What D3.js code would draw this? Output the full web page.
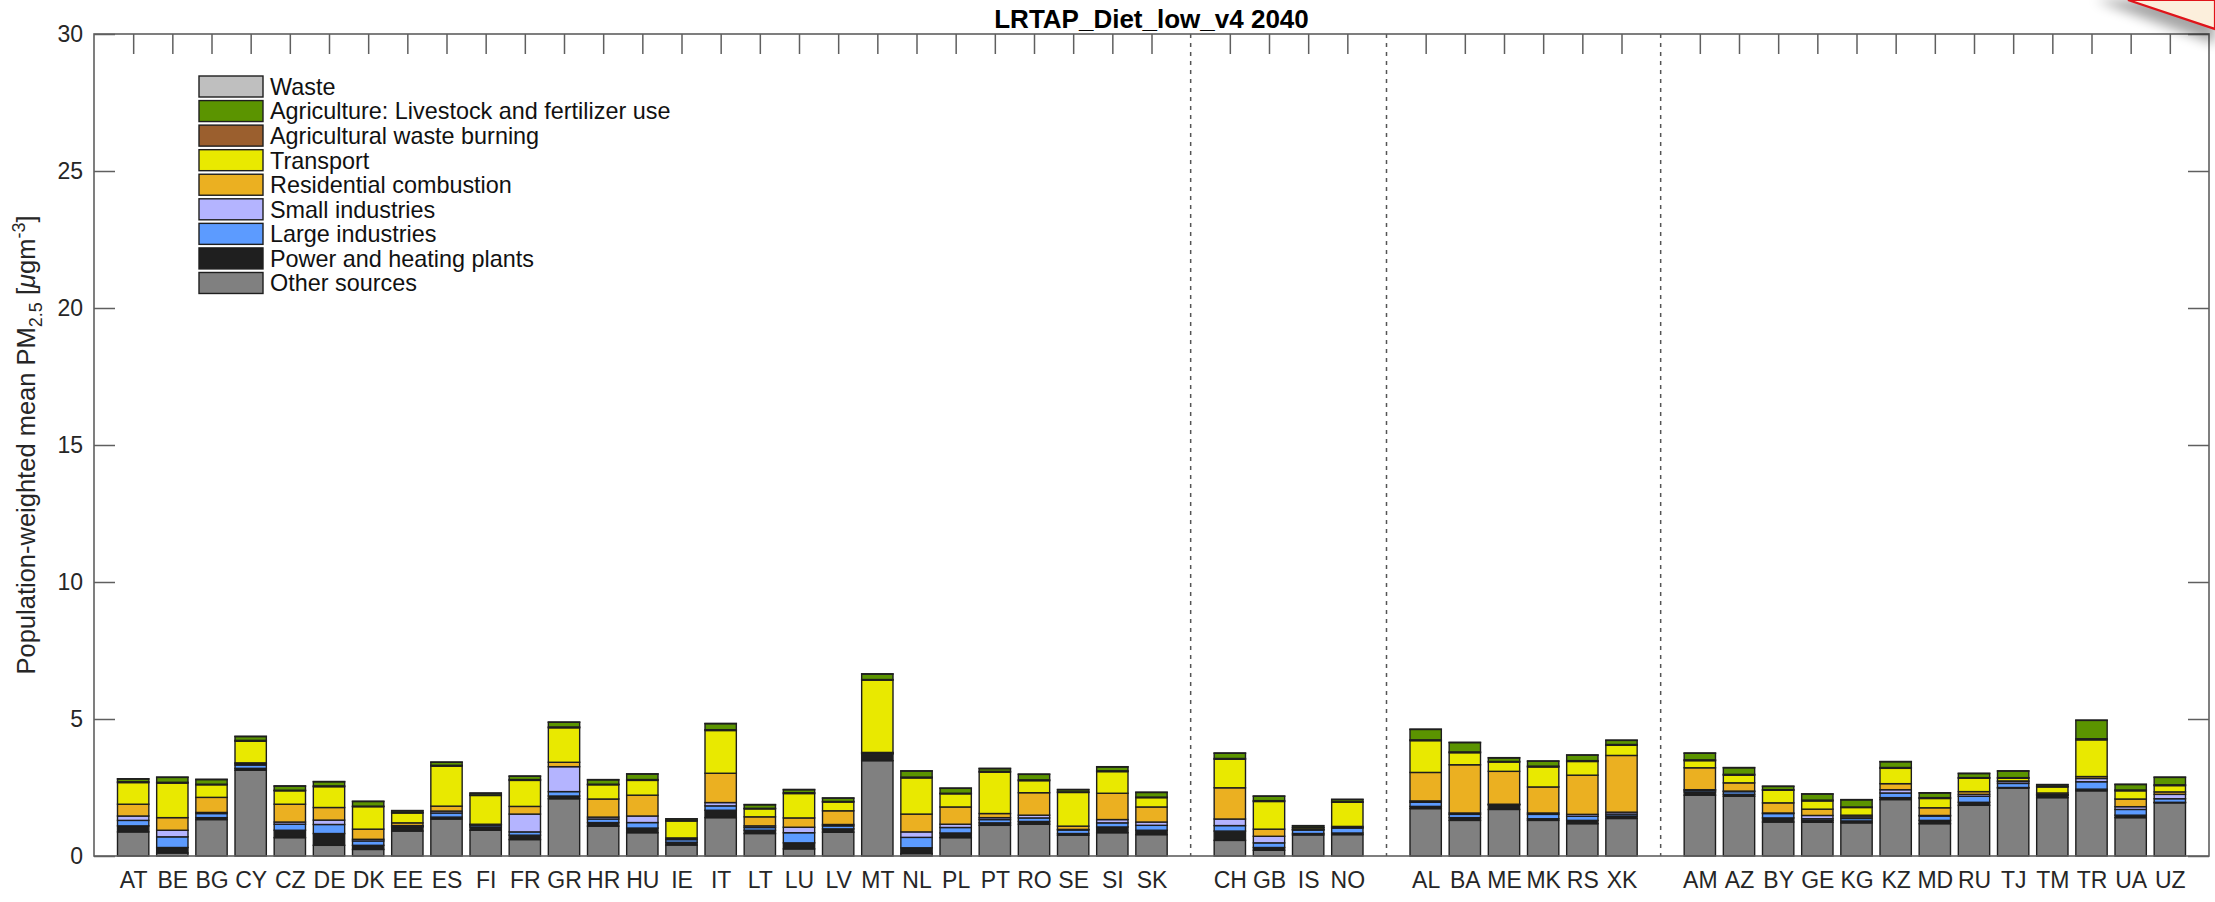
<!DOCTYPE html>
<html>
<head>
<meta charset="utf-8">
<script src="https://cdn.jsdelivr.net/npm/d3@7"></script>
<style>
  body { margin: 0; background: #fff; }
  svg { display: block; }
  text { font-family: "Liberation Sans", Arial, Helvetica, sans-serif; }
</style>
</head>
<body>
<svg id="chart" width="2215" height="902"></svg>
<script>
// Country groups (a blank slot separates each group on the x axis)
const euCountries = ["AT","BE","BG","CY","CZ","DE","DK","EE","ES","FI","FR","GR","HR","HU","IE","IT","LT","LU","LV","MT","NL","PL","PT","RO","SE","SI","SK"];
const eftaCountries = ["CH","GB","IS","NO"];
const balkanCountries = ["AL","BA","ME","MK","RS","XK"];
const eastCountries = ["AM","AZ","BY","GE","KG","KZ","MD","RU","TJ","TM","TR","UA","UZ"];
const countryGroups = [euCountries, eftaCountries, balkanCountries, eastCountries];

// Source contributions, µg/m3, one value per country in the order above
const otherSources = [0.88,0.11,1.33,3.13,0.67,0.39,0.24,0.91,1.35,0.94,0.60,2.09,1.09,0.85,0.40,1.40,0.82,0.26,0.87,3.48,0.09,0.67,1.12,1.16,0.76,0.85,0.78,
  0.57,0.21,0.77,0.78, 1.73,1.30,1.70,1.30,1.18,1.37, 2.22,2.18,1.24,1.23,1.21,2.06,1.18,1.85,2.48,2.13,2.38,1.40,1.94];
const powerPlants = [0.22,0.20,0.07,0.07,0.27,0.43,0.15,0.15,0.07,0.12,0.16,0.10,0.13,0.17,0.10,0.27,0.12,0.22,0.12,0.24,0.21,0.17,0.09,0.10,0.06,0.21,0.16,
  0.34,0.10,0.05,0.06, 0.08,0.10,0.16,0.06,0.12,0.09, 0.12,0.07,0.15,0.07,0.07,0.07,0.12,0.11,0.02,0.09,0.06,0.09,0.02];
const largeIndustries = [0.20,0.39,0.15,0.12,0.22,0.33,0.16,0.03,0.15,0.07,0.12,0.16,0.13,0.20,0.10,0.16,0.10,0.37,0.11,0.03,0.38,0.20,0.12,0.13,0.13,0.15,0.18,
  0.20,0.17,0.13,0.18, 0.15,0.12,0.02,0.16,0.15,0.07, 0.06,0.10,0.16,0.06,0.09,0.17,0.16,0.22,0.15,0.01,0.27,0.21,0.13];
const smallIndustries = [0.16,0.24,0.04,0.05,0.08,0.16,0.06,0.02,0.07,0.01,0.65,0.91,0.07,0.24,0.01,0.12,0.06,0.20,0.05,0.01,0.20,0.12,0.07,0.10,0.02,0.12,0.12,
  0.24,0.24,0.01,0.02, 0.05,0.05,0.01,0.05,0.07,0.07, 0.02,0.02,0.02,0.12,0.06,0.12,0.02,0.07,0.07,0.01,0.12,0.10,0.16];
const residential = [0.43,0.46,0.55,0.03,0.65,0.46,0.37,0.10,0.18,0.02,0.28,0.16,0.66,0.76,0.05,1.07,0.33,0.34,0.50,0.02,0.65,0.63,0.15,0.82,0.12,0.96,0.55,
  1.14,0.26,0.01,0.04, 1.04,1.76,1.20,0.95,1.43,2.07, 0.80,0.30,0.37,0.23,0.06,0.22,0.28,0.10,0.02,0.06,0.07,0.28,0.09];
const transport = [0.79,1.26,0.46,0.79,0.49,0.76,0.82,0.36,1.46,1.05,0.95,1.26,0.52,0.54,0.62,1.56,0.29,0.89,0.32,2.64,1.32,0.48,1.51,0.44,1.23,0.79,0.34,
  1.04,1.01,0.06,0.88, 1.16,0.44,0.34,0.73,0.50,0.37, 0.26,0.28,0.46,0.30,0.28,0.56,0.34,0.49,0.10,0.22,1.34,0.30,0.23];
const agWasteBurning = [0.03,0.03,0.02,0.03,0.02,0.03,0.02,0.02,0.03,0.02,0.03,0.03,0.02,0.03,0.01,0.03,0.02,0.03,0.02,0.02,0.03,0.02,0.03,0.03,0.02,0.03,0.02,
  0.03,0.03,0.01,0.02, 0.03,0.03,0.02,0.03,0.03,0.03, 0.03,0.03,0.02,0.03,0.02,0.03,0.03,0.02,0.02,0.02,0.04,0.03,0.03];
const agriculture = [0.10,0.18,0.17,0.14,0.15,0.15,0.17,0.06,0.11,0.06,0.12,0.17,0.16,0.20,0.06,0.22,0.13,0.11,0.12,0.20,0.22,0.18,0.10,0.20,0.08,0.14,0.17,
  0.19,0.16,0.06,0.08, 0.38,0.34,0.13,0.18,0.20,0.15, 0.24,0.24,0.12,0.22,0.26,0.21,0.17,0.15,0.24,0.06,0.67,0.20,0.27];
const waste = [0.01,0.01,0.01,0.01,0.01,0.01,0.01,0.01,0.01,0.01,0.01,0.01,0.01,0.01,0.01,0.01,0.01,0.01,0.01,0.01,0.01,0.01,0.01,0.01,0.01,0.01,0.01,
  0.01,0.01,0.01,0.01, 0.01,0.01,0.01,0.01,0.01,0.01, 0.01,0.01,0.01,0.01,0.01,0.01,0.01,0.01,0.01,0.01,0.01,0.01,0.01];

// Stack order, bottom to top
const seriesNames = ["Other sources","Power and heating plants","Large industries","Small industries",
  "Residential combustion","Transport","Agricultural waste burning","Agriculture: Livestock and fertilizer use","Waste"];
const seriesValues = [otherSources, powerPlants, largeIndustries, smallIndustries, residential, transport, agWasteBurning, agriculture, waste];
const seriesColors = ["#808080","#1f1f1f","#5c9bff","#b4b4ff","#ebb021","#e9e900","#9b5f2e","#5b9400","#bfbfbf"];

const yTicks = [0,5,10,15,20,25,30];
const chartTitle = "LRTAP_Diet_low_v4 2040";

// ---- layout ----
const margin = { left: 94, right: 2209, top: 34, bottom: 856 };
const svg = d3.select("#chart");

// slot positions: countries at consecutive integers, one empty slot between groups
const categories = [];
const slots = [];
const separators = [];
let pos = 1;
countryGroups.forEach((g, gi) => {
  g.forEach(c => { categories.push(c); slots.push(pos); pos += 1; });
  if (gi < countryGroups.length - 1) { separators.push(pos); pos += 1; }
});
const xMax = pos; // one slot margin on each side

const x = d3.scaleLinear().domain([0, xMax]).range([margin.left, margin.right]);
const y = d3.scaleLinear().domain([0, 30]).range([margin.bottom, margin.top]);

const rows = categories.map((c, i) => {
  const r = { country: c, slot: slots[i] };
  seriesNames.forEach((s, k) => { r[s] = seriesValues[k][i]; });
  return r;
});
const stacked = d3.stack().keys(seriesNames)(rows);

const axisColor = "#5f5f5f";
const textColor = "#262626";
const tickFont = 23;

// bottom axis ticks/labels (drawn under the bars)
const xBottom = svg.append("g")
  .attr("transform", `translate(0,${margin.bottom})`)
  .call(d3.axisBottom(x).tickValues(slots).tickSizeInner(-20).tickSizeOuter(0).tickPadding(15.5)
    .tickFormat((d, i) => categories[i]));
xBottom.select(".domain").remove();
xBottom.selectAll("line").attr("stroke", axisColor).attr("stroke-width", 1.5);
xBottom.selectAll("text").attr("font-size", tickFont).attr("fill", textColor);

// separators between country groups
svg.append("g").selectAll("line").data(separators).join("line")
  .attr("x1", d => x(d)).attr("x2", d => x(d))
  .attr("y1", margin.top).attr("y2", margin.bottom)
  .attr("stroke", "#555").attr("stroke-width", 1.5).attr("stroke-dasharray", "4,5");

// stacked bars
const barW = x(0.8) - x(0);
svg.append("g").selectAll("g").data(stacked).join("g")
  .attr("fill", (d, i) => seriesColors[i])
  .selectAll("rect").data(d => d).join("rect")
  .attr("x", d => x(d.data.slot) - barW / 2)
  .attr("width", barW)
  .attr("y", d => y(d[1]))
  .attr("height", d => Math.max(0, y(d[0]) - y(d[1])))
  .attr("stroke", "#1e1e1e").attr("stroke-width", 1.4);

// y axis left with labels
const yLeft = svg.append("g").attr("transform", `translate(${margin.left},0)`)
  .call(d3.axisLeft(y).tickValues(yTicks).tickSizeInner(-21).tickSizeOuter(0).tickPadding(11));
yLeft.select(".domain").remove();
yLeft.selectAll("line").attr("stroke", axisColor).attr("stroke-width", 1.5);
yLeft.selectAll("text").attr("font-size", tickFont).attr("fill", textColor);

// y axis right ticks
const yRight = svg.append("g").attr("transform", `translate(${margin.right},0)`)
  .call(d3.axisRight(y).tickValues(yTicks).tickSizeInner(-21).tickSizeOuter(0).tickFormat(""));
yRight.select(".domain").remove();
yRight.selectAll("line").attr("stroke", axisColor).attr("stroke-width", 1.5);

// top ticks
const xTop = svg.append("g").attr("transform", `translate(0,${margin.top})`)
  .call(d3.axisTop(x).tickValues(slots).tickSizeInner(-20).tickSizeOuter(0).tickFormat(""));
xTop.select(".domain").remove();
xTop.selectAll("line").attr("stroke", axisColor).attr("stroke-width", 1.5);

// axes box
svg.append("rect")
  .attr("x", margin.left).attr("y", margin.top)
  .attr("width", margin.right - margin.left).attr("height", margin.bottom - margin.top)
  .attr("fill", "none").attr("stroke", axisColor).attr("stroke-width", 1.6);

// title
svg.append("text")
  .attr("x", (margin.left + margin.right) / 2).attr("y", 28)
  .attr("text-anchor", "middle").attr("font-size", 26).attr("font-weight", "bold").attr("fill", "#000")
  .text(chartTitle);

// y axis label with sub/superscripts
const yl = svg.append("text")
  .attr("transform", `translate(35,${(margin.top + margin.bottom) / 2}) rotate(-90)`)
  .attr("text-anchor", "middle").attr("font-size", 25.5).attr("fill", textColor);
yl.append("tspan").text("Population-weighted mean PM");
yl.append("tspan").attr("font-size", 18).attr("dy", 7).text("2.5");
yl.append("tspan").attr("dy", -7).text(" [");
yl.append("tspan").attr("font-style", "italic").text("\u03bc");
yl.append("tspan").text("gm");
yl.append("tspan").attr("font-size", 18).attr("dy", -10).text("-3");
yl.append("tspan").attr("dy", 10).text("]");

// legend (top of stack listed first)
const legendOrder = d3.range(seriesNames.length).reverse();
const lg = svg.append("g");
const rowH = 24.56;
legendOrder.forEach((k, r) => {
  const cy = 86.5 + r * rowH;
  lg.append("rect").attr("x", 199).attr("y", cy - 10.5).attr("width", 64).attr("height", 21)
    .attr("fill", seriesColors[k]).attr("stroke", "#1e1e1e").attr("stroke-width", 1.4);
  lg.append("text").attr("x", 270).attr("y", cy).attr("dy", "0.36em")
    .attr("font-size", 23.4).attr("fill", "#111").text(seriesNames[k]);
});

// folded corner sticker in the top-right
const defs = svg.append("defs");
defs.append("filter").attr("id", "cornerShadow")
  .attr("x", "-50%").attr("y", "-50%").attr("width", "200%").attr("height", "200%")
  .append("feGaussianBlur").attr("stdDeviation", 6);
svg.append("path").attr("d", "M2095,0 L2215,0 L2215,44 Z")
  .attr("fill", "#000").attr("opacity", 0.35).attr("filter", "url(#cornerShadow)");
svg.append("path").attr("d", "M2128,0 L2215,0 L2215,29 Z")
  .attr("fill", "#fcefdc").attr("stroke", "#e0141a").attr("stroke-width", 2.2);
</script>
</body>
</html>
